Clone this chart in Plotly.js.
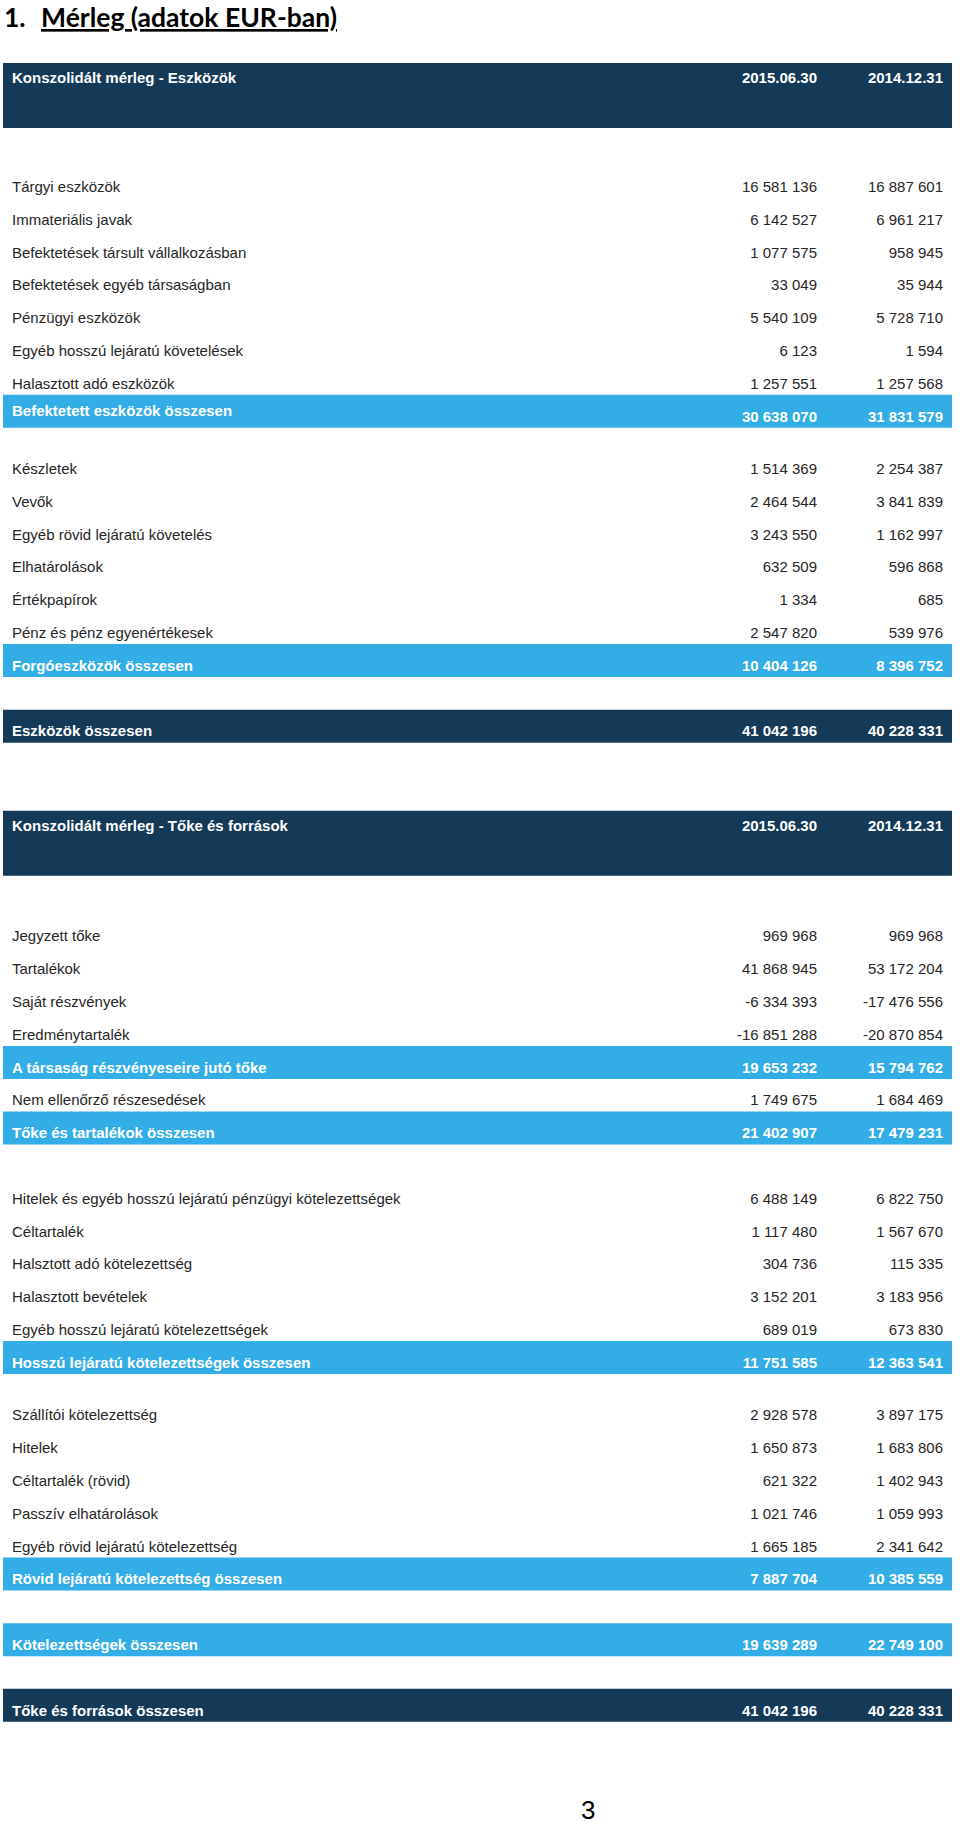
<!DOCTYPE html>
<html>
<head>
<meta charset="utf-8">
<script src="https://cdn.plot.ly/plotly-3.0.1.min.js"></script>
<style>
  html, body { margin: 0; padding: 0; background: #fff; }
  #chart { width: 960px; height: 1824px; }
</style>
</head>
<body>
<div id="chart"></div>
<script>
// Mérleg table: rows drawn as text traces on a pixel-scaled axis, bands as shapes.

const PERIODS = ['2015.06.30', '2014.12.31'];

const labels = [
    'Konszolidált mérleg - Eszközök',
    'Tárgyi eszközök',
    'Immateriális javak',
    'Befektetések társult vállalkozásban',
    'Befektetések egyéb társaságban',
    'Pénzügyi eszközök',
    'Egyéb hosszú lejáratú követelések',
    'Halasztott adó eszközök',
    'Befektetett eszközök összesen',
    'Készletek',
    'Vevők',
    'Egyéb rövid lejáratú követelés',
    'Elhatárolások',
    'Értékpapírok',
    'Pénz és pénz egyenértékesek',
    'Forgóeszközök összesen',
    'Eszközök összesen',
    'Konszolidált mérleg - Tőke és források',
    'Jegyzett tőke',
    'Tartalékok',
    'Saját részvények',
    'Eredménytartalék',
    'A társaság részvényeseire jutó tőke',
    'Nem ellenőrző részesedések',
    'Tőke és tartalékok összesen',
    'Hitelek és egyéb hosszú lejáratú pénzügyi kötelezettségek',
    'Céltartalék',
    'Halsztott adó kötelezettség',
    'Halasztott bevételek',
    'Egyéb hosszú lejáratú kötelezettségek',
    'Hosszú lejáratú kötelezettségek összesen',
    'Szállítói kötelezettség',
    'Hitelek',
    'Céltartalék (rövid)',
    'Passzív elhatárolások',
    'Egyéb rövid lejáratú kötelezettség',
    'Rövid lejáratú kötelezettség összesen',
    'Kötelezettségek összesen',
    'Tőke és források összesen',
];

const val2015 = [
    null, 16581136, 6142527, 1077575, 33049, 5540109, 6123, 1257551, 30638070,
    1514369, 2464544, 3243550, 632509, 1334, 2547820, 10404126, 41042196,
    null, 969968, 41868945, -6334393, -16851288, 19653232, 1749675, 21402907,
    6488149, 1117480, 304736, 3152201, 689019, 11751585,
    2928578, 1650873, 621322, 1021746, 1665185, 7887704, 19639289, 41042196,
];

const val2014 = [
    null, 16887601, 6961217, 958945, 35944, 5728710, 1594, 1257568, 31831579,
    2254387, 3841839, 1162997, 596868, 685, 539976, 8396752, 40228331,
    null, 969968, 53172204, -17476556, -20870854, 15794762, 1684469, 17479231,
    6822750, 1567670, 115335, 3183956, 673830, 12363541,
    3897175, 1683806, 1402943, 1059993, 2341642, 10385559, 22749100, 40228331,
];

// head = section header, item = plain row, sub = light subtotal, total = dark total
const kinds = [
    'head', 'item', 'item', 'item', 'item', 'item', 'item', 'item', 'sub',
    'item', 'item', 'item', 'item', 'item', 'item', 'sub', 'total',
    'head', 'item', 'item', 'item', 'item', 'sub', 'item', 'sub',
    'item', 'item', 'item', 'item', 'item', 'sub',
    'item', 'item', 'item', 'item', 'item', 'sub', 'sub', 'total',
];

// ---- layout (pixels) ----
const W = 960, H = 1824;
const STEP = 32.8;
const FIRST_Y = 79;
// spacing before each row, in row steps
const GAP = [
    0, 3.33, 1, 1, 1, 1, 1, 1, 1,
    1.6, 1, 1, 1, 1, 1, 1, 2,
    2.87, 3.38, 1, 1, 1, 1, 1, 1,
    2, 1, 1, 1, 1, 1,
    1.6, 1, 1, 1, 1, 1, 2, 2,
];
const LABEL_SHIFT = { 8: -6 };
const X_LABEL = 12, X_COL1 = 817, X_COL2 = 943;
const BAND_X0 = 3, BAND_X1 = 952;
const DARK = '#153a57', LIGHT = '#33ade6', INK = '#262626';
const FONT = 'Liberation Sans, Arial, sans-serif';

const rowY = [];
GAP.reduce((acc, g) => { const y = acc + g * STEP; rowY.push(y); return y; }, FIRST_Y);

function fmt(v) {
    if (v === null) return '';
    const s = Math.abs(v).toString().replace(/\B(?=(\d{3})+(?!\d))/g, ' ');
    return (v < 0 ? '-' : '') + s;
}

const idx = labels.map((_, i) => i);
const plain = idx.filter(i => kinds[i] === 'item');
const banded = idx.filter(i => kinds[i] !== 'item');

function textTrace(rows, x, textOf, pos, color, weight, shift) {
    return {
        type: 'scatter', mode: 'text',
        x: rows.map(() => x),
        y: rows.map(i => rowY[i] + (shift ? (shift[i] || 0) : 0)),
        text: rows.map(textOf),
        textposition: pos,
        textfont: { family: FONT, size: 15, color, weight },
        hoverinfo: 'skip', cliponaxis: false, showlegend: false,
    };
}

const colText = (vals, k) => i => kinds[i] === 'head' ? PERIODS[k] : fmt(vals[i]);

const traces = [
    textTrace(plain, X_LABEL, i => labels[i], 'middle right', INK, 400),
    textTrace(plain, X_COL1, i => fmt(val2015[i]), 'middle left', INK, 400),
    textTrace(plain, X_COL2, i => fmt(val2014[i]), 'middle left', INK, 400),
    textTrace(banded, X_LABEL, i => labels[i], 'middle right', '#ffffff', 700, LABEL_SHIFT),
    textTrace(banded, X_COL1, colText(val2015, 0), 'middle left', '#ffffff', 700),
    textTrace(banded, X_COL2, colText(val2014, 1), 'middle left', '#ffffff', 700),
];

const shapes = banded.map(i => {
    const head = kinds[i] === 'head';
    return {
        type: 'rect', layer: 'below', xref: 'x', yref: 'y',
        x0: BAND_X0, x1: BAND_X1,
        y0: head ? rowY[i] - 16 : rowY[i] - 23,
        y1: head ? rowY[i] + 49 : rowY[i] + 10,
        fillcolor: kinds[i] === 'sub' ? LIGHT : DARK,
        line: { width: 0 },
    };
});

const titleFont = { family: 'Lato, sans-serif', size: 26.5, color: '#000' };

const layout = {
    width: W, height: H,
    margin: { t: 0, r: 0, b: 0, l: 0 },
    paper_bgcolor: '#ffffff', plot_bgcolor: '#ffffff',
    xaxis: { range: [0, W], visible: false, fixedrange: true },
    yaxis: { range: [H, 0], visible: false, fixedrange: true },
    shapes,
    annotations: [
        { xref: 'x', yref: 'y', x: 3, y: 0, xanchor: 'left', yanchor: 'top',
          borderpad: 0, text: '<b>1.</b>', showarrow: false, font: titleFont },
        { xref: 'x', yref: 'y', x: 40, y: 0, xanchor: 'left', yanchor: 'top',
          borderpad: 0, text: '<b><u>Mérleg (adatok EUR-ban)</u></b>', showarrow: false,
          font: titleFont },
        { xref: 'x', yref: 'y', x: 588, y: 1810, xanchor: 'center', yanchor: 'middle',
          text: '3', showarrow: false,
          font: { family: FONT, size: 26, color: '#000' } },
    ],
    showlegend: false,
};

Plotly.newPlot('chart', traces, layout, { displayModeBar: false, staticPlot: true });
</script>
</body>
</html>
